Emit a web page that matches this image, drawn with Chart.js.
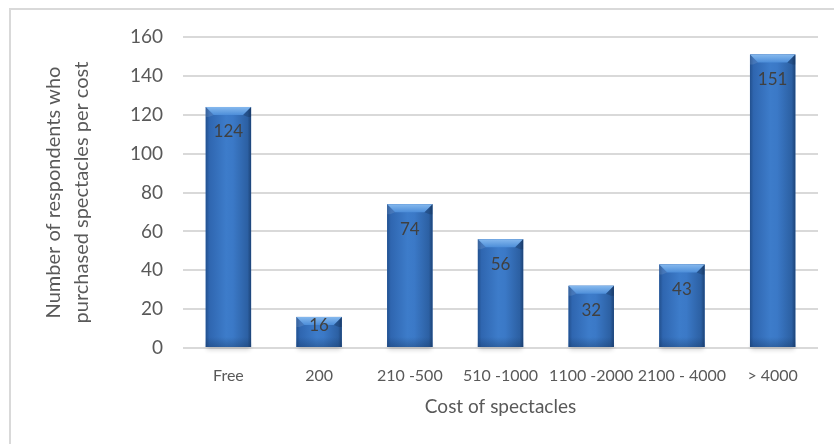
<!DOCTYPE html>
<html>
<head>
<meta charset="utf-8">
<script src="https://cdn.jsdelivr.net/npm/chart.js@4.4.0/dist/chart.umd.min.js"></script>
<style>
  html, body { margin: 0; padding: 0; background: #fff; }
  #wrap { position: relative; width: 834px; height: 444px; }
  #frame { position: absolute; left: 9px; top: 8px; right: 0; bottom: 0;
           border-left: 2px solid #d9d9d9; border-top: 2px solid #d9d9d9; }
  canvas { position: absolute; left: 0; top: 0; }
</style>
</head>
<body>
<div id="wrap">
  <div id="frame"></div>
  <canvas id="costChart" width="834" height="444"></canvas>
</div>
<script>
const categories = ['Free', '200', '210 -500', '510 -1000', '1100 -2000', '2100 - 4000', '> 4000'];
const respondents = [124, 16, 74, 56, 32, 43, 151];
const yTicks = [0, 20, 40, 60, 80, 100, 120, 140, 160];

const textColor = '#595959';
const font = 'Lato, "Open Sans", sans-serif';

// bevelled bars + labels, drawn over the bars chart.js already placed
const bevelBars = {
  id: 'bevelBars',
  beforeDatasetsDraw(chart) {
    const ctx = chart.ctx;
    const meta = chart.getDatasetMeta(0);
    ctx.save();
    meta.data.forEach(bar => {
      const l = bar.x - bar.width / 2;
      ctx.fillStyle = 'rgba(0,0,0,0.35)';
      ctx.shadowColor = 'rgba(0,0,0,0.45)';
      ctx.shadowBlur = 4;
      ctx.shadowOffsetY = 3;
      ctx.fillRect(l + 1, bar.base - 6, bar.width - 2, 6);
    });
    ctx.restore();
  },
  afterDatasetsDraw(chart) {
    const ctx = chart.ctx;
    const meta = chart.getDatasetMeta(0);
    ctx.save();
    meta.data.forEach((bar, i) => {
      const l = bar.x - bar.width / 2, r = bar.x + bar.width / 2;
      const t = bar.y, b = bar.base;
      const w = bar.width;
      // horizontal shading
      const g = ctx.createLinearGradient(l, 0, r, 0);
      g.addColorStop(0, '#22508e');
      g.addColorStop(0.08, '#2f66b0');
      g.addColorStop(0.45, '#3d7cca');
      g.addColorStop(0.6, '#3b79c7');
      g.addColorStop(0.92, '#2c60a3');
      g.addColorStop(1, '#1d4478');
      ctx.fillStyle = g;
      ctx.fillRect(l, t, w, b - t);
      // bottom darkening
      const gv = ctx.createLinearGradient(0, b - 10, 0, b);
      gv.addColorStop(0, 'rgba(20,50,90,0)');
      gv.addColorStop(1, 'rgba(20,50,90,0.35)');
      ctx.fillStyle = gv;
      ctx.fillRect(l, b - 10, w, 10);
      // top bevel
      const bv = 8;
      const gt = ctx.createLinearGradient(0, t, 0, t + bv);
      gt.addColorStop(0, '#86b9ee');
      gt.addColorStop(1, '#4d8ed9');
      ctx.fillStyle = gt;
      ctx.beginPath();
      ctx.moveTo(l, t);
      ctx.lineTo(r, t);
      ctx.lineTo(r - bv, t + bv);
      ctx.lineTo(l + bv, t + bv);
      ctx.closePath();
      ctx.fill();
      // side bevels
      ctx.fillStyle = 'rgba(255,255,255,0.10)';
      ctx.beginPath();
      ctx.moveTo(l, t); ctx.lineTo(l + bv, t + bv); ctx.lineTo(l + 3, t + bv + 2); ctx.lineTo(l, t + bv + 2);
      ctx.closePath(); ctx.fill();
      ctx.fillStyle = 'rgba(10,30,60,0.25)';
      ctx.beginPath();
      ctx.moveTo(r, t); ctx.lineTo(r - bv, t + bv); ctx.lineTo(r - 3, t + bv + 2); ctx.lineTo(r, t + bv + 2);
      ctx.closePath(); ctx.fill();
      // value label
      const h = b - t;
      const off = Math.min(25, h / 2 - 6);
      ctx.fillStyle = '#404040';
      ctx.font = '17px ' + font;
      ctx.textAlign = 'center';
      ctx.textBaseline = 'middle';
      ctx.fillText(String(respondents[i]), bar.x, t + off);
    });
    ctx.restore();
  }
};

new Chart(document.getElementById('costChart'), {
  type: 'bar',
  data: {
    labels: categories,
    datasets: [{
      data: respondents,
      backgroundColor: '#3a76c3',
      categoryPercentage: 1,
      barPercentage: 0.5,
    }],
  },
  options: {
    responsive: false,
    animation: false,
    layout: { padding: { left: 40, right: 16, top: 37, bottom: 22 } },
    plugins: { legend: { display: false }, tooltip: { enabled: false } },
    scales: {
      x: {
        grid: { display: false, drawTicks: false },
        border: { display: false },
        ticks: { color: textColor, font: { family: font, size: 16 }, padding: 18, maxRotation: 0, autoSkip: false },
        title: { display: true, text: 'Cost of spectacles', color: textColor, font: { family: font, size: 19 }, padding: { top: -8 } },
      },
      y: {
        min: 0,
        max: 160,
        afterBuildTicks(axis) { axis.ticks = yTicks.map(v => ({ value: v })); },
        grid: { color: '#d9d9d9', lineWidth: 2, drawTicks: false },
        border: { display: false },
        ticks: { color: textColor, font: { family: font, size: 19 }, padding: 20 },
        title: {
          display: true,
          text: ['Number of respondents who', 'purchased spectacles per cost'],
          color: textColor,
          font: { family: font, size: 20, lineHeight: 1.4 },
          padding: { top: 0, bottom: 14 },
        },
      },
    },
  },
  plugins: [bevelBars],
});
</script>
</body>
</html>
